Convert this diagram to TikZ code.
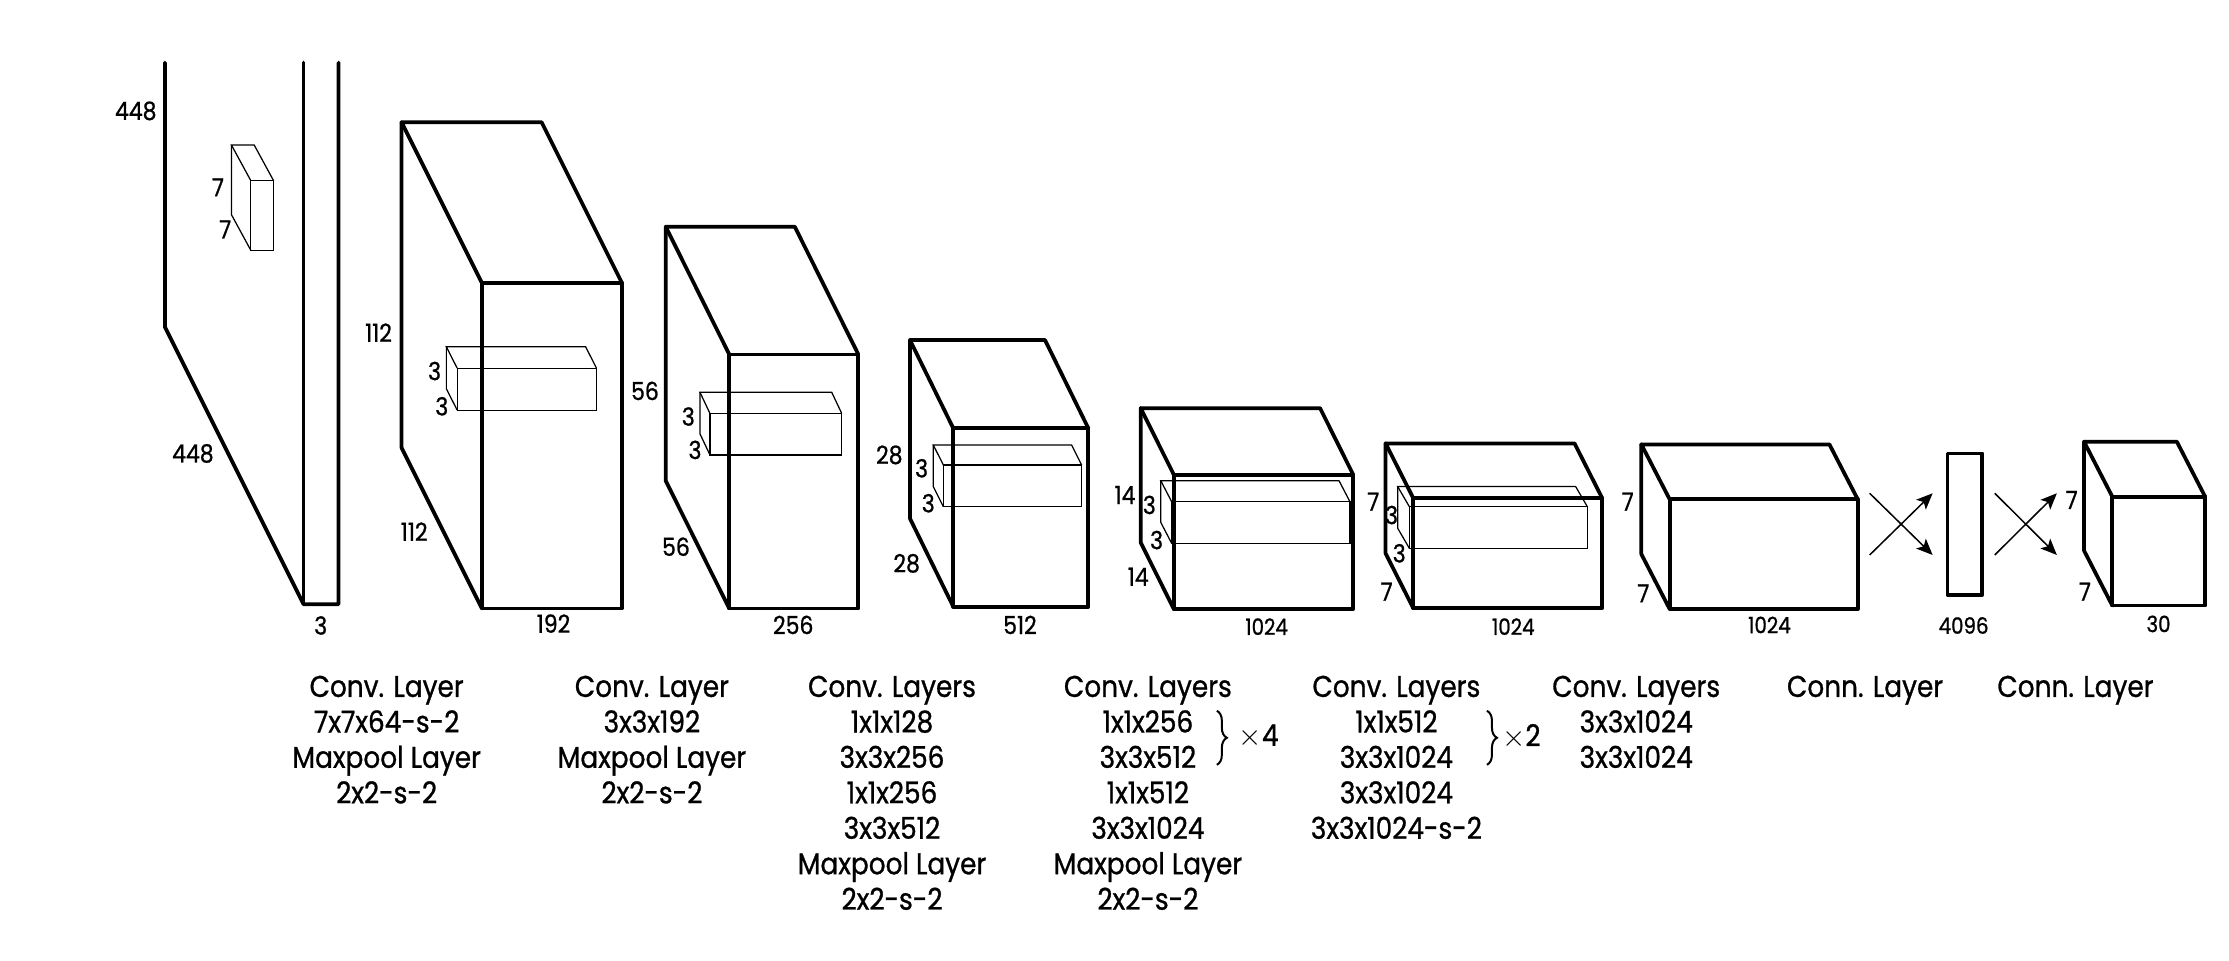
\documentclass[tikz,border=0pt]{standalone}
\usepackage{fontspec}
\setmainfont{Poppins}[FakeStretch=0.88, FakeBold=0.9]
\usetikzlibrary{arrows.meta,decorations.pathreplacing}

% box: [style]{front x}{front y}{width}{height}{depth x}{depth y}
\newcommand{\featbox}[7][]{%
  \draw[#1] (#2,#3) rectangle ++(#4,#5);
  \draw[#1] (#2,#3) -- ++(-#6,-#7) -- ++(#4,0) -- ++(#6,#7);
  \draw[#1] (#2-#6,#3-#7) -- ++(0,#5) -- ++(#6,#7);
}

\begin{document}
\begin{tikzpicture}[x=0.02cm, y=-0.02cm, >={Stealth[length=6.5pt, width=5.5pt, inset=1.5pt]},
  block/.style={line width=1.5pt, line join=round, line cap=round},
  kern/.style={line width=0.5pt},
  dim/.style={inner sep=0pt, font=\fontsize{10}{11}\selectfont},
  sdim/.style={inner sep=0pt, font=\fontsize{9}{10}\selectfont},
  layer/.style={anchor=north, align=center, inner sep=0pt,
    font=\fontsize{12}{14.2}\selectfont},
  link/.style={->, line width=0.6pt},
  rep/.style={decorate, decoration={brace, amplitude=4pt}, line width=0.8pt}]

  \useasboundingbox (0,0) rectangle (1568,676);

  %-------------------------
  % Input image 448x448x3
  %-------------------------
  \draw[block] (116,44) -- (116,230) -- (213.5,425) -- (238.2,425) -- (238.2,44);
  \draw[block] (213.5,44) -- (213.5,425);
  \featbox[kern]{176.4}{127}{16}{49}{13.6}{25}

  \node[dim] (in-h) at (95.5,78) {448};
  \node[dim] (in-w) at (135.7,319) {448};
  \node[dim] (in-c) at (225.6,440) {3};
  \node[dim] (k1-h) at (153.3,131.8) {7};
  \node[dim] (k1-w) at (158.4,161.4) {7};

  %-------------------------
  % Feature maps
  %-------------------------
  % 112x112x192
  \featbox[block]{339}{199}{98.5}{229}{56.5}{113}
  \featbox[kern]{321.6}{259}{98}{29.5}{7.6}{15}
  \node[dim] (f2-h) at (266.3,234) {112};
  \node[dim] (f2-w) at (291.4,374) {112};
  \node[dim] (f2-c) at (389.4,438.7) {192};
  \node[dim] (k2-h) at (305.7,261) {3};
  \node[dim] (k2-w) at (310.8,285.8) {3};

  % 56x56x256
  \featbox[block]{513}{249.3}{90.8}{178.7}{44.7}{89.8}
  \featbox[kern]{499.4}{290.8}{92.7}{29.2}{7}{14.8}
  \node[dim] (f3-h) at (453.7,275) {56};
  \node[dim] (f3-w) at (475.5,384.6) {56};
  \node[dim] (f3-c) at (558,439.6) {256};
  \node[dim] (k3-h) at (484.2,293) {3};
  \node[dim] (k3-w) at (488.9,316.5) {3};

  % 28x28x512
  \featbox[block]{670.6}{301.3}{95}{125.5}{30.5}{62.1}
  \featbox[kern]{663.6}{327.1}{97.3}{29.3}{7.1}{14.1}
  \node[dim] (f4-h) at (625.6,320) {28};
  \node[dim] (f4-w) at (637.8,396.3) {28};
  \node[dim] (f4-c) at (717.5,439.6) {512};
  \node[dim] (k4-h) at (648.3,329.4) {3};
  \node[dim] (k4-w) at (653,354) {3};

  % 14x14x1024
  \featbox[block]{825.8}{334.1}{126.2}{94.5}{23.4}{47}
  \featbox[kern]{824.2}{352.9}{125.4}{29.3}{7.7}{14.8}
  \node[dim] (f5-h) at (791.4,348.2) {14};
  \node[dim] (f5-w) at (800.7,405.7) {14};
  \node[sdim] (f5-c) at (891,440.8) {1024};
  \node[dim] (k5-h) at (808.5,355.2) {3};
  \node[dim] (k5-w) at (813.6,379.9) {3};

  % 7x7x1024
  \featbox[block]{994.2}{350.5}{132.9}{77.4}{19.5}{38.6}
  \featbox[kern]{991.4}{356.4}{125.2}{29.3}{8.2}{14.1}
  \node[dim] (f6-h) at (966,352.9) {7};
  \node[dim] (f6-w) at (975.4,416.2) {7};
  \node[sdim] (f6-c) at (1064.5,440.8) {1024};
  \node[dim] (k6-h) at (978.9,362.3) {3};
  \node[dim] (k6-w) at (984.3,389.2) {3};

  % 7x7x1024
  \featbox[block]{1174.5}{351.2}{132.3}{77.2}{19.9}{38.6}
  \node[dim] (f7-h) at (1145,352.9) {7};
  \node[dim] (f7-w) at (1156,417.4) {7};
  \node[sdim] (f7-c) at (1244.7,439.6) {1024};

  % fully connected 4096
  \draw[block] (1370,319) rectangle (1394.4,418.5);
  \node[sdim] (fc-c) at (1381.3,440) {4096};

  % output 7x7x30
  \featbox[block]{1485.9}{349.4}{65.3}{76.6}{19.9}{38.7}
  \node[dim] (out-h) at (1457.3,351.7) {7};
  \node[dim] (out-w) at (1466.6,416.2) {7};
  \node[sdim] (out-c) at (1518.4,438.9) {30};

  % crossing arrows
  \coordinate (a1s) at (1315.2,347);
  \coordinate (a1e) at (1359.5,390.4);
  \coordinate (a2s) at (1315.2,390.4);
  \coordinate (a2e) at (1359.5,347);
  \coordinate (b1s) at (1403.2,347);
  \coordinate (b1e) at (1446.9,390.4);
  \coordinate (b2s) at (1403.2,390.4);
  \coordinate (b2e) at (1446.9,347);
  \draw[link] (a1s) -- (a1e);
  \draw[link] (a2s) -- (a2e);
  \draw[link] (b1s) -- (b1e);
  \draw[link] (b2s) -- (b2e);

  %-------------------------
  % Layer descriptions
  %-------------------------
  \node[layer] (t1) at (272,475) {Conv. Layer\\7x7x64-s-2\\Maxpool Layer\\2x2-s-2};
  \node[layer] (t2) at (458.6,475) {Conv. Layer\\3x3x192\\Maxpool Layer\\2x2-s-2};
  \node[layer] (t3) at (627.5,475) {Conv. Layers\\1x1x128\\3x3x256\\1x1x256\\3x3x512\\Maxpool Layer\\2x2-s-2};
  \node[layer] (t4) at (807.5,475) {Conv. Layers\\1x1x256\\3x3x512\\1x1x512\\3x3x1024\\Maxpool Layer\\2x2-s-2};
  \node[layer] (t5) at (982.3,475) {Conv. Layers\\1x1x512\\3x3x1024\\3x3x1024\\3x3x1024-s-2};
  \node[layer] (t6) at (1151,475) {Conv. Layers\\3x3x1024\\3x3x1024};
  \node[layer] (t7) at (1312,475) {Conn. Layer};
  \node[layer] (t8) at (1460,475) {Conn. Layer};

  % repeat braces
  \coordinate (r4t) at (856,500);
  \coordinate (r4b) at (856,538);
  \coordinate (r5t) at (1046,500);
  \coordinate (r5b) at (1046,538);
  \draw[rep] (r4t) -- (r4b);
  \draw[rep] (r5t) -- (r5b);
  \node[layer, anchor=center] (x4) at (885.4,518) {$\times$4};
  \node[layer, anchor=center] (x2) at (1070.2,518) {$\times$2};

\end{tikzpicture}
\end{document}
